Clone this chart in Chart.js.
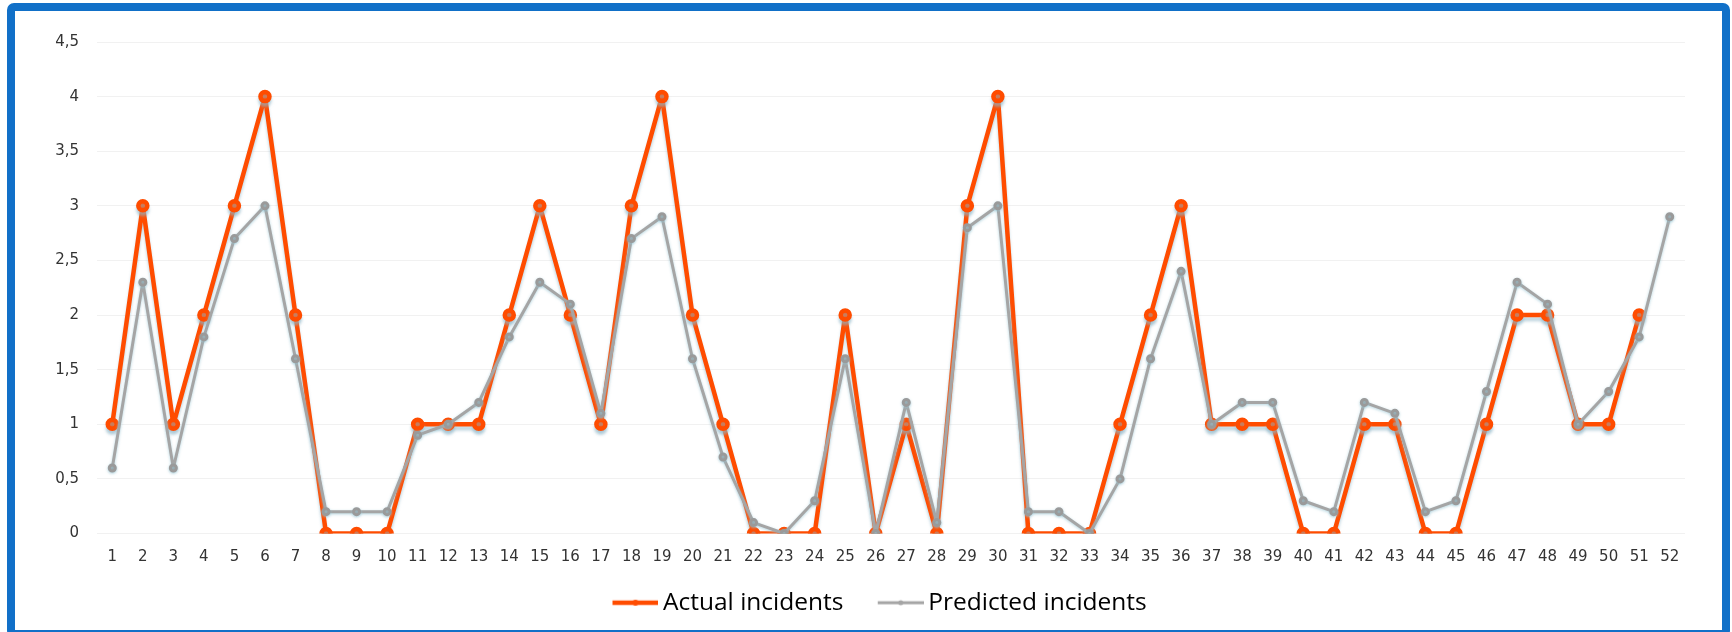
<!DOCTYPE html>
<html>
<head>
<meta charset="utf-8">
<script src="https://cdn.jsdelivr.net/npm/chart.js@4/dist/chart.umd.min.js"></script>
<style>
  html, body { margin: 0; padding: 0; background: #ffffff; overflow: hidden; }
  #wrap { position: relative; width: 1732px; height: 632px; overflow: hidden; }
  #c { position: absolute; left: 0; top: 0; }
  #frame {
    position: absolute; left: 7px; top: 3px; width: 1707px; height: 619px;
    border: 8px solid #1170C8; border-radius: 7px; pointer-events: none;
  }
</style>
</head>
<body>
<div id="wrap">
  <canvas id="c" width="1732" height="632"></canvas>
  <div id="frame"></div>
</div>
<script>
// ---- data ----
const weeks = ['1','2','3','4','5','6','7','8','9','10','11','12','13','14','15','16','17','18','19','20','21','22','23','24','25','26','27','28','29','30','31','32','33','34','35','36','37','38','39','40','41','42','43','44','45','46','47','48','49','50','51','52'];
const actualIncidents = [1,3,1,2,3,4,2,0,0,0,1,1,1,2,3,2,1,3,4,2,1,0,0,0,2,0,1,0,3,4,0,0,0,1,2,3,1,1,1,0,0,1,1,0,0,1,2,2,1,1,2];
const predictedIncidents = [0.6,2.3,0.6,1.8,2.7,3.0,1.6,0.2,0.2,0.2,0.9,1.0,1.2,1.8,2.3,2.1,1.1,2.7,2.9,1.6,0.7,0.1,0,0.3,1.6,0,1.2,0.1,2.8,3.0,0.2,0.2,0,0.5,1.6,2.4,1.0,1.2,1.2,0.3,0.2,1.2,1.1,0.2,0.3,1.3,2.3,2.1,1.0,1.3,1.8,2.9];
const yTickLabels = ['0','0,5','1','1,5','2','2,5','3','3,5','4','4,5'];
const seriesNames = ['Actual incidents', 'Predicted incidents'];

// ---- styles ----
const actualColor = '#FF4C00';
const predColor = '#A5A5A5';
const swatchBoxWidth = 50.5;
const legendShiftX = 31;

function legendSwatch(color, lw, r) {
  const cv = document.createElement('canvas');
  const w = Math.round(swatchBoxWidth + 15);
  cv.width = w; cv.height = 12;
  const g = cv.getContext('2d');
  g.strokeStyle = color; g.lineWidth = lw;
  g.beginPath(); g.moveTo(w - 46, 6); g.lineTo(w, 6); g.stroke();
  g.fillStyle = color;
  g.beginPath(); g.arc(w - 23, 6, r, 0, Math.PI * 2); g.fill();
  return cv;
}
const swatches = [legendSwatch(actualColor, 4.5, 3), legendSwatch(predColor, 3, 2.5)];
const shadowStyles = [
  { color: 'rgba(140,180,198,0.55)', blur: 3, dy: 4 },
  { color: 'rgba(150,195,210,0.7)', blur: 3, dy: 1 }
];

const shadowPlugin = {
  id: 'lineShadow',
  beforeDatasetDraw(chart, args) {
    const s = shadowStyles[args.index];
    const ctx = chart.ctx;
    ctx.save();
    ctx.shadowColor = s.color; ctx.shadowBlur = s.blur; ctx.shadowOffsetY = s.dy;
  },
  afterDatasetDraw(chart) { chart.ctx.restore(); }
};
const legendShiftPlugin = {
  id: 'legendShift',
  afterLayout(chart) {
    const lg = chart.legend;
    if (lg) { lg.left += legendShiftX; lg.right += legendShiftX; }
  }
};

new Chart(document.getElementById('c'), {
  type: 'line',
  data: {
    labels: weeks,
    datasets: [
      {
        label: seriesNames[0], data: actualIncidents, order: 1,
        borderColor: actualColor, backgroundColor: actualColor, borderWidth: 4.5,
        borderJoinStyle: 'round',
        pointStyle: 'circle', pointRadius: 4.5,
        pointBackgroundColor: actualColor, pointBorderColor: actualColor,
        tension: 0, fill: false
      },
      {
        label: seriesNames[1], data: predictedIncidents, order: 0,
        borderColor: predColor, backgroundColor: predColor, borderWidth: 3,
        borderJoinStyle: 'round',
        pointStyle: 'circle', pointRadius: 3,
        pointBackgroundColor: '#9a9a9a', pointBorderColor: '#9a9a9a',
        tension: 0, fill: false
      }
    ]
  },
  options: {
    responsive: false, animation: false, devicePixelRatio: 1,
    layout: { padding: { left: 0, right: 47, top: 42, bottom: 7 } },
    plugins: {
      tooltip: { enabled: false },
      legend: {
        position: 'bottom',
        labels: {
          usePointStyle: true, pointStyleWidth: swatchBoxWidth, padding: 22,
          font: { family: 'Open Sans', size: 24.5 }, color: '#3c3c3c',
          generateLabels(chart) {
            return chart.data.datasets.map((d, i) => ({
              text: d.label, datasetIndex: i, pointStyle: swatches[i],
              fillStyle: d.borderColor, strokeStyle: d.borderColor, lineWidth: 0, hidden: false
            }));
          }
        }
      }
    },
    scales: {
      x: {
        offset: true,
        grid: { display: false, drawTicks: false },
        border: { display: false },
        ticks: { padding: 15, autoSkip: false, maxRotation: 0, color: '#333333', font: { family: 'DejaVu Sans', size: 15 } },
        afterFit(scale) { scale.height = 35; }
      },
      y: {
        min: 0, max: 4.5,
        grid: { color: '#f1f1f1', drawTicks: false },
        border: { display: false },
        ticks: {
          stepSize: 0.5, padding: 18, color: '#333333',
          font: { family: 'DejaVu Sans', size: 15 },
          callback: (v, i) => yTickLabels[i]
        },
        afterFit(scale) { scale.width = 97; }
      }
    }
  },
  plugins: [shadowPlugin, legendShiftPlugin]
});
</script>
</body>
</html>
